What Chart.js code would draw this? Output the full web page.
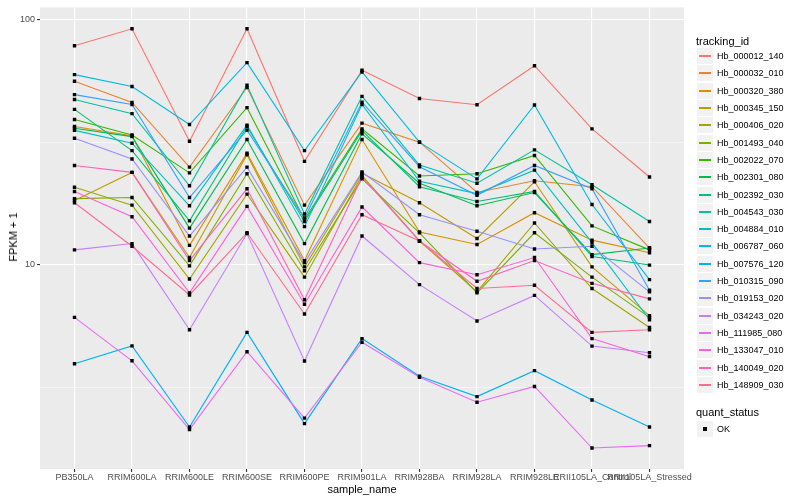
<!DOCTYPE html>
<html>
<head>
<meta charset="utf-8">
<script src="https://cdn.jsdelivr.net/npm/chart.js@4.4.0/dist/chart.umd.min.js"></script>
<style>
body{margin:0;background:#fff;font-family:"Liberation Sans",Arial,sans-serif;}
#wrap{position:relative;width:800px;height:500px;overflow:hidden;}
#chart{position:absolute;left:0;top:0;}
.t{position:absolute;white-space:nowrap;color:#000;}
.ttl{font-size:11px;line-height:14px;}
.key{position:absolute;left:697px;width:16px;height:16px;background:#F2F2F2;}
.key span{position:absolute;left:2px;right:2px;top:7px;height:2px;}
.lab{position:absolute;left:717px;font-size:9px;line-height:17px;white-space:nowrap;}
</style>
</head>
<body>
<div id="wrap">
<canvas id="chart" width="800" height="500"></canvas>
<div class="t ttl" style="left:12.7px;top:237px;transform:translate(-50%,-50%) rotate(-90deg);">FPKM + 1</div>
<div class="t ttl" style="left:362px;top:489px;transform:translate(-50%,-50%);">sample_name</div>
<div id="legend"></div>
</div>
<script>
'use strict'

const samples = ['PB350LA','RRIM600LA','RRIM600LE','RRIM600SE','RRIM600PE','RRIM901LA','RRIM928BA','RRIM928LA','RRIM928LE','RRII105LA_Control','RRII105LA_Stressed'];

const trackingIds = ['Hb_000012_140','Hb_000032_010','Hb_000320_380','Hb_000345_150','Hb_000406_020','Hb_001493_040','Hb_002022_070','Hb_002301_080','Hb_002392_030','Hb_004543_030','Hb_004884_010','Hb_006787_060','Hb_007576_120','Hb_010315_090','Hb_019153_020','Hb_034243_020','Hb_111985_080','Hb_133047_010','Hb_140049_020','Hb_148909_030'];

// FPKM + 1, one value per sample
const hb000012_140 = [78.1, 91.6, 31.9, 91.6, 26.4, 62.1, 47.6, 44.9, 64.8, 35.8, 22.8];
const hb000032_010 = [56.0, 45.9, 25.0, 52.8, 17.5, 37.8, 31.6, 19.7, 22.0, 20.8, 11.7];
const hb000320_380 = [36.6, 33.6, 12.0, 28.5, 10.4, 32.4, 13.6, 12.1, 16.3, 12.6, 11.2];
const hb000345_150 = [18.3, 23.8, 10.7, 28.1, 9.8, 23.6, 17.9, 12.8, 21.8, 9.8, 6.2];
const hb000406_020 = [20.7, 17.5, 8.75, 19.4, 8.9, 23.1, 12.5, 7.77, 14.8, 8.0, 5.55];
const hb001493_040 = [18.6, 18.8, 9.9, 23.5, 9.45, 22.4, 13.5, 7.68, 13.5, 8.9, 6.1];
const hb002022_070 = [39.1, 33.8, 23.7, 43.7, 15.3, 35.8, 23.0, 23.5, 27.9, 14.4, 11.5];
const hb002301_080 = [36.0, 33.3, 14.1, 32.4, 12.2, 34.2, 21.5, 17.4, 19.7, 11.0, 11.7];
const hb002392_030 = [43.0, 29.2, 15.1, 36.6, 15.0, 35.2, 20.8, 18.1, 19.9, 10.8, 9.97];
const hb004543_030 = [47.2, 41.3, 21.0, 54.0, 16.1, 48.6, 25.5, 21.5, 29.4, 21.2, 15.0];
const hb004884_010 = [35.3, 31.3, 17.4, 37.1, 14.3, 45.0, 21.9, 19.5, 24.3, 12.3, 5.97];
const hb006787_060 = [59.6, 53.3, 37.3, 66.7, 29.2, 61.1, 31.6, 22.4, 44.8, 17.6, 8.7];
const hb007576_120 = [3.95, 4.67, 2.18, 5.3, 2.25, 5.0, 3.51, 2.90, 3.70, 2.81, 2.18];
const hb010315_090 = [49.4, 45.0, 18.8, 35.4, 15.5, 46.0, 25.1, 19.2, 25.4, 20.4, 7.87];
const hb019153_020 = [32.8, 27.0, 13.1, 25.0, 10.2, 23.9, 16.0, 13.7, 11.6, 11.9, 7.75];
const hb034243_020 = [11.5, 12.2, 5.43, 13.4, 4.05, 13.1, 8.3, 5.9, 7.5, 4.66, 4.38];
const hb111985_080 = [6.1, 4.06, 2.13, 4.42, 2.37, 4.83, 3.48, 2.75, 3.19, 1.79, 1.83];
const hb133047_010 = [19.9, 15.7, 7.68, 17.3, 6.9, 17.2, 10.2, 9.1, 10.7, 5.0, 4.22];
const hb140049_020 = [25.4, 23.8, 10.4, 20.4, 7.2, 22.8, 12.5, 8.56, 10.4, 8.4, 7.26];
const hb148909_030 = [17.9, 11.9, 7.53, 13.5, 6.3, 16.0, 12.5, 8.0, 8.25, 5.3, 5.43];

const yTicks = [10, 100];
const yMinor = [3.1623, 31.623];

const series = [hb000012_140, hb000032_010, hb000320_380, hb000345_150, hb000406_020, hb001493_040, hb002022_070, hb002301_080, hb002392_030, hb004543_030, hb004884_010, hb006787_060, hb007576_120, hb010315_090, hb019153_020, hb034243_020, hb111985_080, hb133047_010, hb140049_020, hb148909_030];

const colours = ['#F8766D','#EA8331','#D89000','#C09B00','#A3A500','#7CAE00','#39B600','#00BB4E','#00BF7D','#00C1A3','#00BFC4','#00BAE0','#00B0F6','#35A2FF','#9590FF','#C77CFF','#E76BF3','#FA62DB','#FF62BC','#FF6C91'];

const fontFam = '"Liberation Sans", Arial, sans-serif';

const lineSets = series.map((vals, i) => ({
    type: 'line',
    label: trackingIds[i],
    data: vals.map((v, j) => ({x: j, y: v})),
    borderColor: colours[i],
    borderWidth: 1.1,
    pointRadius: 0,
    fill: false,
    tension: 0,
    order: series.length - i
}));

// all points on top of all lines, as ggplot does
const pointSet = {
    type: 'scatter',
    label: 'OK',
    data: series.flatMap(vals => vals.map((v, j) => ({x: j, y: v}))),
    pointStyle: 'rect',
    pointRadius: 2.4,
    backgroundColor: '#000',
    borderColor: '#000',
    borderWidth: 0,
    order: -1
};

const panelBg = {
    id: 'panelBg',
    beforeDraw(chart) {
        const {ctx, chartArea: a} = chart;
        ctx.save();
        ctx.fillStyle = '#EBEBEB';
        ctx.fillRect(a.left, a.top, a.right - a.left, a.bottom - a.top);
        ctx.restore();
    }
};

const isMajor = c => c.tick && yTicks.includes(c.tick.value);

new Chart(document.getElementById('chart'), {
    type: 'line',
    data: {datasets: [pointSet, ...lineSets]},
    options: {
        responsive: false,
        animation: false,
        layout: {padding: {left: 0, top: 5, right: 116, bottom: 0}},
        plugins: {legend: {display: false}, tooltip: {enabled: false}},
        scales: {
            x: {
                type: 'linear',
                min: -0.6,
                max: 10.6,
                afterBuildTicks: s => { s.ticks = samples.map((_, i) => ({value: i})); },
                afterFit: s => { s.height = 31; },
                ticks: {
                    callback: v => samples[v],
                    autoSkip: false, maxRotation: 0, minRotation: 0,
                    color: '#4D4D4D', font: {size: 9, family: fontFam}, padding: 0
                },
                grid: {color: '#FFFFFF', lineWidth: 1.1, tickColor: '#333333', tickLength: 3},
                border: {display: false}
            },
            y: {
                type: 'logarithmic',
                min: 1.47,
                max: 112,
                afterBuildTicks: s => {
                    s.ticks = [...yMinor, ...yTicks].sort((a, b) => a - b).map(v => ({value: v}));
                },
                afterFit: s => { s.width = 40; },
                ticks: {
                    callback: v => yTicks.includes(v) ? String(v) : '',
                    color: '#4D4D4D', font: {size: 9, family: fontFam}, padding: 2
                },
                grid: {
                    color: '#FFFFFF',
                    lineWidth: c => isMajor(c) ? 1.1 : 0.5,
                    tickColor: c => isMajor(c) ? '#333333' : 'rgba(0,0,0,0)',
                    tickLength: 3
                },
                border: {display: false}
            }
        }
    },
    plugins: [panelBg]
});

// legend
let html = '<div class="t ttl" style="left:696px;top:33.7px;">tracking_id</div>';
trackingIds.forEach((id, i) => {
    const top = Math.round(48.1 + i * 17.3);
    html += `<div class="key" style="top:${top}px"><span style="background:${colours[i]}"></span></div>`;
    html += `<div class="lab" style="top:${top}px">${id}</div>`;
});
html += '<div class="t ttl" style="left:696px;top:405.3px;">quant_status</div>';
html += '<div class="key" style="top:421px"><span style="left:6px;right:6px;top:6px;height:4px;background:#000"></span></div>';
html += '<div class="lab" style="top:420.5px">OK</div>';
document.getElementById('legend').innerHTML = html;
</script>
</body>
</html>
